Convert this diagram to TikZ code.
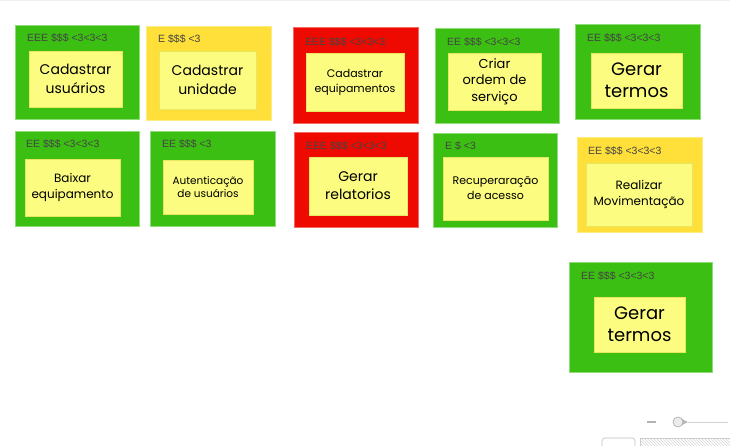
\documentclass[tikz,border=0pt]{standalone}
\usepackage{fontspec}
\setmainfont{Liberation Sans}
\newfontfamily\handfont{Poppins}
\usetikzlibrary{patterns}
\definecolor{cgreen}{HTML}{3BBF12}
\definecolor{cgreenb}{HTML}{8FDC7A}
\definecolor{cyellow}{HTML}{FFDF3A}
\definecolor{cyellowb}{HTML}{FFEC80}
\definecolor{cred}{HTML}{EE0A00}
\definecolor{credb}{HTML}{F76A60}
\definecolor{cnote}{HTML}{FCFC80}
\definecolor{cnoteb}{HTML}{E8E860}
\definecolor{clabel}{HTML}{444444}
\tikzset{
  card/.style={draw=#1b, fill=#1, line width=0.8pt, inner sep=0pt},
  note/.style={draw=cnoteb, fill=cnote, line width=0.5pt, inner sep=0pt, align=center, font=\handfont},
  tag/.style={anchor=west, inner sep=0pt, text=clabel, font=\fontsize{10.5}{12}\selectfont},
}
\begin{document}
\begin{tikzpicture}[x=1pt,y=-1pt]
\useasboundingbox (0,0) rectangle (730,445);
\fill[white] (0,0) rectangle (730,445);
\draw[gray!12, line width=0.8pt] (0,0.5) -- (730,0.5);
% row 1
\node[card=cgreen, minimum width=124pt, minimum height=94pt] (c1) at (77,72) {};
\node[note, minimum width=93pt, minimum height=56pt, font=\handfont\fontsize{14}{19}\selectfont] (n1) at (75.5,79) {Cadastrar\\usuários};
\node[tag] (t1) at (27,38) {EEE \$\$\$ <3<3<3};

\node[card=cyellow, minimum width=125pt, minimum height=94pt] (c2) at (208.5,73) {};
\node[note, minimum width=97pt, minimum height=58pt, font=\handfont\fontsize{14}{19}\selectfont] (n2) at (207.5,80) {Cadastrar\\unidade};
\node[tag] (t2) at (158,39) {E \$\$\$ <3};

\node[card=cred, minimum width=125pt, minimum height=96pt] (c3) at (355.5,75) {};
\node[note, minimum width=98pt, minimum height=58pt, font=\handfont\fontsize{11}{15}\selectfont] (n3) at (355,82) {Cadastrar\\equipamentos};
\node[tag] (t3) at (305,42) {EEE \$\$\$ <3<3<3};

\node[card=cgreen, minimum width=124pt, minimum height=95pt] (c4) at (497,75.5) {};
\node[note, minimum width=93pt, minimum height=57pt, font=\handfont\fontsize{13}{16.5}\selectfont] (n4) at (494.5,81.5) {Criar\\ordem de\\serviço};
\node[tag] (t4) at (447,42) {EE \$\$\$ <3<3<3};

\node[card=cgreen, minimum width=125pt, minimum height=95pt] (c5) at (637.5,71.5) {};
\node[note, minimum width=91pt, minimum height=55pt, font=\handfont\fontsize{18}{22}\selectfont] (n5) at (636.5,80.5) {Gerar\\termos};
\node[tag] (t5) at (587,38) {EE \$\$\$ <3<3<3};
% row 2
\node[card=cgreen, minimum width=124pt, minimum height=95pt] (c6) at (77,178.5) {};
\node[note, minimum width=95pt, minimum height=57pt, font=\handfont\fontsize{12}{16}\selectfont] (n6) at (72.5,187.5) {Baixar\\equipamento};
\node[tag] (t6) at (26,144) {EE \$\$\$ <3<3<3};

\node[card=cgreen, minimum width=125pt, minimum height=95pt] (c7) at (212.5,178.5) {};
\node[note, minimum width=90pt, minimum height=54pt, font=\handfont\fontsize{10.5}{13}\selectfont] (n7) at (208,187) {Autenticação\\de usuários};
\node[tag] (t7) at (162,144) {EE \$\$\$ <3};

\node[card=cred, minimum width=124pt, minimum height=95pt] (c8) at (356,179.5) {};
\node[note, minimum width=98pt, minimum height=58pt, font=\handfont\fontsize{14}{18}\selectfont] (n8) at (358,186) {Gerar\\relatorios};
\node[tag] (t8) at (306,146) {EEE \$\$\$ <3<3<3};

\node[card=cgreen, minimum width=124pt, minimum height=94pt] (c9) at (495,180) {};
\node[note, minimum width=105pt, minimum height=63pt, font=\handfont\fontsize{11}{15}\selectfont] (n9) at (495.5,188.5) {Recuperaração\\de acesso};
\node[tag] (t9) at (445,146) {E \$ <3};

\node[card=cyellow, minimum width=125pt, minimum height=95pt] (c10) at (639.5,184.5) {};
\node[note, minimum width=106pt, minimum height=63pt, font=\handfont\fontsize{12}{16}\selectfont] (n10) at (639,194.5) {Realizar\\Movimentação};
\node[tag] (t10) at (588,151) {EE \$\$\$ <3<3<3};
% lone card
\node[card=cgreen, minimum width=143pt, minimum height=110pt] (c11) at (640.5,317) {};
\node[note, minimum width=91pt, minimum height=55pt, font=\handfont\fontsize{18}{22}\selectfont] (n11) at (639.5,324.5) {Gerar\\termos};
\node[tag] (t11) at (581,276) {EE \$\$\$ <3<3<3};
% zoom widget
\draw[gray!60, line width=1.2pt] (647,422) -- (656,422);
\draw[gray!35, line width=0.6pt] (688,422) -- (728,422);
\fill[gray!55] (682,419) -- (688,422) -- (682,425) -- cycle;
\node[circle, draw=gray!70, fill=gray!15, line width=0.6pt, minimum size=10pt, inner sep=0pt] (knob) at (678,422) {};
\draw[gray!50, line width=0.6pt, rounded corners=3pt] (602,446) -- (602,438) -- (635,438) -- (635,446);
\draw[gray!40, line width=0.5pt, pattern=north west lines, pattern color=gray!30] (640,438) rectangle (731,446);
\end{tikzpicture}
\end{document}
